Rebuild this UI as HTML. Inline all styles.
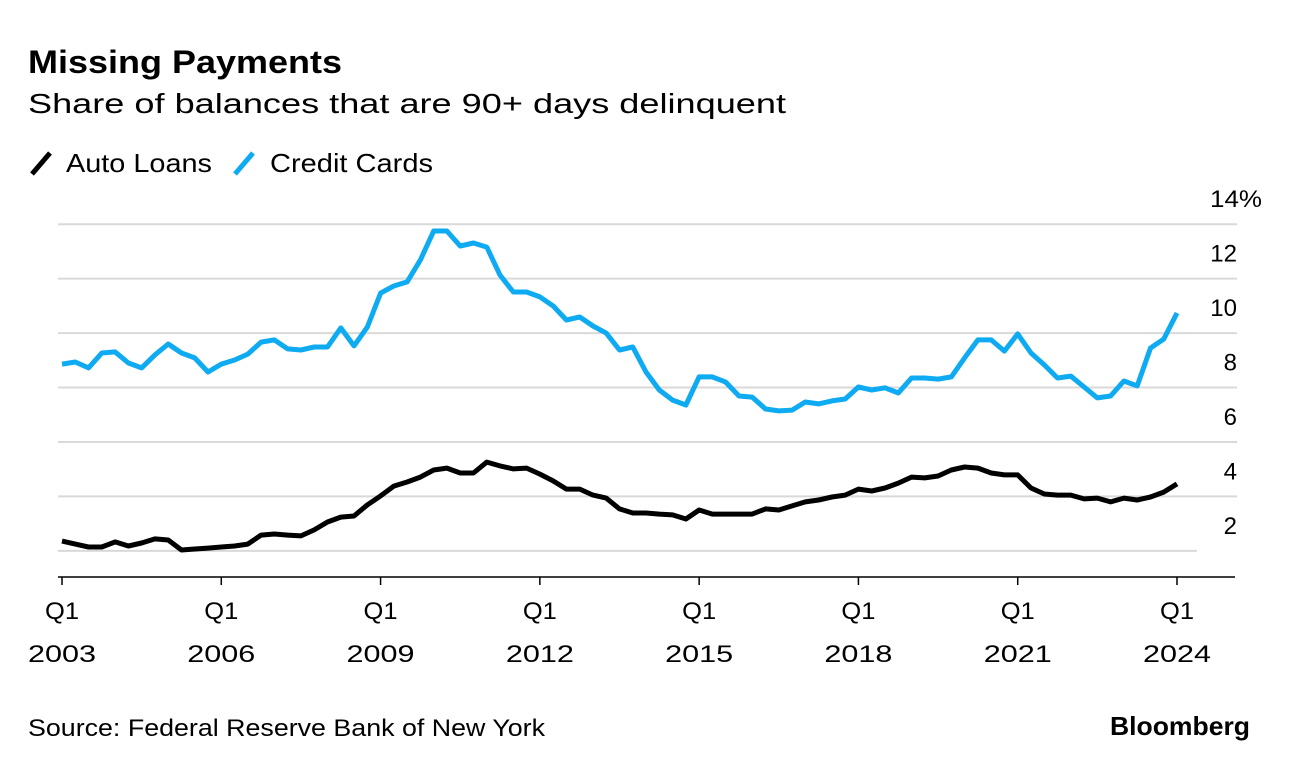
<!DOCTYPE html>
<html><head><meta charset="utf-8"><style>
body{margin:0;background:#fff;width:1289px;height:770px;overflow:hidden;font-family:"Liberation Sans",Arial,sans-serif;color:#000}
svg{position:absolute;left:0;top:0}
</style></head><body>
<svg width="1289" height="770" id="svg">
<text x="28" y="73" font-size="32" font-weight="bold" textLength="314" lengthAdjust="spacingAndGlyphs">Missing Payments</text>
<text x="28" y="113" font-size="28" textLength="758" lengthAdjust="spacingAndGlyphs">Share of balances that are 90+ days delinquent</text>
<g>
<line x1="32" y1="174" x2="50" y2="153" stroke="#000" stroke-width="5"/>
<text x="66" y="172" font-size="26" textLength="146" lengthAdjust="spacingAndGlyphs">Auto Loans</text>
<line x1="235" y1="174" x2="253" y2="153" stroke="#0eaaf2" stroke-width="5"/>
<text x="270" y="172" font-size="26" textLength="163" lengthAdjust="spacingAndGlyphs">Credit Cards</text>
</g>
<g id="grid"></g><g id="ylab"></g><g id="xax"></g><g id="series"></g>
<text x="28" y="736" font-size="24" textLength="517" lengthAdjust="spacingAndGlyphs">Source: Federal Reserve Bank of New York</text>
<text x="1110" y="735" font-size="26" font-weight="bold" textLength="140" lengthAdjust="spacingAndGlyphs">Bloomberg</text>
</svg>
<script>
const yTicks=[2,4,6,8,10,12,14];
const xLabelYears=[2003,2006,2009,2012,2015,2018,2021,2024];
const creditCards=[8.86,8.94,8.72,9.27,9.31,8.90,8.72,9.20,9.60,9.27,9.09,8.57,8.86,9.01,9.23,9.67,9.75,9.42,9.38,9.49,9.49,10.19,9.53,10.22,11.47,11.73,11.88,12.69,13.75,13.75,13.20,13.31,13.16,12.13,11.51,11.51,11.33,11.00,10.48,10.59,10.26,10.00,9.38,9.49,8.57,7.91,7.54,7.36,8.39,8.39,8.20,7.69,7.65,7.21,7.14,7.17,7.47,7.40,7.51,7.58,8.02,7.91,7.99,7.80,8.35,8.35,8.31,8.39,9.09,9.75,9.75,9.34,9.97,9.27,8.83,8.35,8.42,8.02,7.62,7.69,8.24,8.06,9.45,9.78,10.74];
const autoLoans=[2.36,2.25,2.14,2.14,2.33,2.18,2.29,2.44,2.40,2.03,2.07,2.10,2.14,2.18,2.25,2.58,2.62,2.58,2.55,2.77,3.06,3.24,3.28,3.69,4.02,4.38,4.53,4.71,4.97,5.04,4.86,4.86,5.26,5.12,5.01,5.04,4.82,4.57,4.27,4.27,4.05,3.94,3.54,3.39,3.39,3.35,3.32,3.17,3.50,3.35,3.35,3.35,3.35,3.54,3.50,3.65,3.80,3.87,3.98,4.05,4.27,4.20,4.31,4.49,4.71,4.68,4.75,4.97,5.08,5.04,4.86,4.79,4.79,4.31,4.09,4.05,4.05,3.91,3.94,3.80,3.94,3.87,3.98,4.16,4.46];
const NS="http://www.w3.org/2000/svg";
const y=v=>605.3-27.22*v;
const x=t=>62+(t-2003)*(1115/21);
function mk(tag,at,parent){const e=document.createElementNS(NS,tag);for(const k in at)e.setAttribute(k,at[k]);document.getElementById(parent).appendChild(e);return e;}
yTicks.forEach(v=>{
 const g=mk('line',{x1:58,x2:v===2?1197:1237,y1:y(v),y2:y(v),stroke:'#d9d9d9','stroke-width':2},'grid');
 
 
 const lbl=v===14?'14%':String(v);
 const at={x:v===14?1210:1237,y:y(v)-17,'font-size':24,'text-anchor':v===14?'start':'end'};
 if(v===14){at.textLength=52;at.lengthAdjust='spacingAndGlyphs';}
 const t=mk('text',at,'ylab');
 t.textContent=lbl;
 
 
});
const ax=mk('line',{x1:58,x2:1235,y1:577,y2:577,stroke:'#000','stroke-width':1.5},'xax');


xLabelYears.forEach(yr=>{
 const xx=x(yr);
 const tk=mk('line',{x1:xx,x2:xx,y1:577,y2:585,stroke:'#000','stroke-width':1.5},'xax');
 
 
 const q=mk('text',{x:xx,y:619,'font-size':24,'text-anchor':'middle',textLength:34,lengthAdjust:'spacingAndGlyphs'},'xax');
 q.textContent='Q1';
 
 
 const t=mk('text',{x:xx,y:662,'font-size':24,'text-anchor':'middle',textLength:68,lengthAdjust:'spacingAndGlyphs'},'xax');
 t.textContent=String(yr);
 
 
});
function line(data,color,name){
 const d=data.map((v,i)=>(i?'L':'M')+x(2003+i/4).toFixed(1)+','+y(v).toFixed(1)).join('');
 const p=mk('path',{d:d,fill:'none',stroke:color,'stroke-width':5,'stroke-linejoin':'round','stroke-linecap':'butt'},'series');
 
 
}
line(creditCards,'#0eaaf2','credit-cards-line');
line(autoLoans,'#000','auto-loans-line');
</script>
</body></html>
